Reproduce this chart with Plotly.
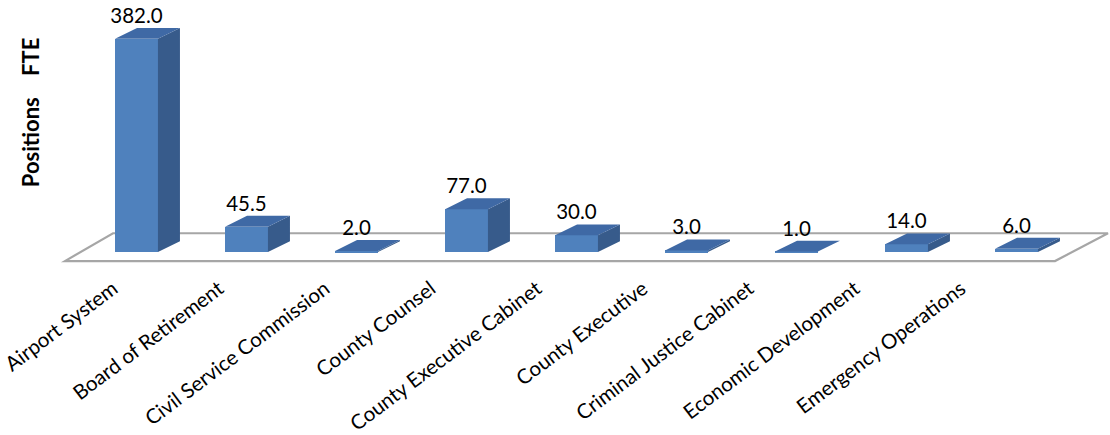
import plotly.graph_objects as go

# FTE positions by department
departments = [
    "Airport System",
    "Board of Retirement",
    "Civil Service Commission",
    "County Counsel",
    "County Executive Cabinet",
    "County Executive",
    "Criminal Justice Cabinet",
    "Economic Development",
    "Emergency Operations",
]
fte = [382.0, 45.5, 2.0, 77.0, 30.0, 3.0, 1.0, 14.0, 6.0]
value_labels = [f"{v:.1f}" for v in fte]

# --- look & geometry of the pseudo-3D columns ---
W, H = 1110, 435
MARGIN_B = 165
PLOT_H = H - MARGIN_B
SLOT_PX = 110.0          # horizontal distance between columns
FIRST_PX = 136.5         # centre of first column front face
PX_PER_UNIT = 0.5625     # vertical scale
ZERO_PX = 254.0          # pixel row of the value 0 (front base)

BAR_W = 0.39             # front face width (in slots)
DEPTH_X = 0.20           # depth offset to the right (in slots)
DEPTH_Y = 11.0 / PX_PER_UNIT  # depth offset upwards (in value units)

FRONT = "#4F81BD"
SIDE = "#375B8B"
TOP = "#3F69A5"
FLOOR_LINE = "#A6A6A6"
FONT = "Lato"

x_range = [-FIRST_PX / SLOT_PX, (W - FIRST_PX) / SLOT_PX]
y_range = [-(PLOT_H - ZERO_PX) / PX_PER_UNIT, ZERO_PX / PX_PER_UNIT]

# category labels run along the front floor edge with a slightly tighter spacing
LABEL_SLOT_PX = 106.0
LABEL_FIRST_PX = 113.0
x2_range = [-LABEL_FIRST_PX / LABEL_SLOT_PX, (W - LABEL_FIRST_PX) / LABEL_SLOT_PX]

pos = list(range(len(departments)))

fig = go.Figure()

# front faces
fig.add_trace(go.Bar(
    x=pos, y=fte, width=BAR_W, marker=dict(color=FRONT, line=dict(width=0)),
    hoverinfo="skip", showlegend=False,
))

# side faces and top faces built from the same values
side_x, side_y, top_x, top_y = [], [], [], []
for p, v in zip(pos, fte):
    r = p + BAR_W / 2
    l = p - BAR_W / 2
    side_x += [r, r + DEPTH_X, r + DEPTH_X, r, r, None]
    side_y += [0, DEPTH_Y, v + DEPTH_Y, v, 0, None]
    top_x += [l, r, r + DEPTH_X, l + DEPTH_X, l, None]
    top_y += [v, v, v + DEPTH_Y, v + DEPTH_Y, v, None]

fig.add_trace(go.Scatter(
    x=side_x, y=side_y, mode="lines", fill="toself", fillcolor=SIDE,
    line=dict(width=0, color=SIDE), hoverinfo="skip", showlegend=False,
))
fig.add_trace(go.Scatter(
    x=top_x, y=top_y, mode="lines", fill="toself", fillcolor=TOP,
    line=dict(width=0, color=TOP), hoverinfo="skip", showlegend=False,
))

# value labels above each column
fig.add_trace(go.Scatter(
    x=pos, y=[v + DEPTH_Y for v in fte], mode="text", text=value_labels,
    textposition="top center", textfont=dict(family=FONT, size=20.5, color="#000000"),
    hoverinfo="skip", showlegend=False, cliponaxis=False,
))

# carrier for the category axis
fig.add_trace(go.Scatter(
    x=pos, y=[0] * len(pos), xaxis="x2", mode="markers",
    marker=dict(opacity=0), hoverinfo="skip", showlegend=False,
))

# floor outline
FLOOR_FRONT_Y = -16.0
FLOOR_BACK_Y = 33.8
fl_front_l, fl_front_r = (65 - FIRST_PX) / SLOT_PX, (1055 - FIRST_PX) / SLOT_PX
fl_back_l, fl_back_r = (113 - FIRST_PX) / SLOT_PX, (1108 - FIRST_PX) / SLOT_PX
fig.add_shape(
    type="path", xref="x", yref="y", layer="below",
    path=(f"M {fl_front_l},{FLOOR_FRONT_Y} L {fl_front_r},{FLOOR_FRONT_Y} "
          f"L {fl_back_r},{FLOOR_BACK_Y} L {fl_back_l},{FLOOR_BACK_Y} Z"),
    line=dict(color=FLOOR_LINE, width=2.2), fillcolor="white",
)

# axis title
fig.add_annotation(
    text="<b>Positions\u00a0\u00a0\u00a0\u00a0FTE</b>", textangle=-90,
    xref="paper", yref="paper", x=30 / W, y=(PLOT_H - 113) / PLOT_H,
    xanchor="center", yanchor="middle",
    showarrow=False, font=dict(family=FONT, size=22, color="#000000"),
)

fig.update_layout(
    width=W, height=H,
    margin=dict(l=0, r=0, t=0, b=MARGIN_B),
    paper_bgcolor="white", plot_bgcolor="white",
    bargap=0,
    xaxis=dict(range=x_range, showgrid=False, zeroline=False, showline=False,
               showticklabels=False, ticks=""),
    xaxis2=dict(range=x2_range, overlaying="x", anchor="y", side="bottom",
                tickmode="array", tickvals=pos, ticktext=departments,
                tickangle=-37, showgrid=False, zeroline=False, showline=False,
                ticks="", ticklen=0, ticklabelstandoff=4,
                ticklabeloverflow="allow",
                tickfont=dict(family=FONT, size=20.5, color="#000000")),
    yaxis=dict(range=y_range, showgrid=False, zeroline=False, showline=False,
               showticklabels=False, ticks=""),
)

fig.write_html("out.html")
